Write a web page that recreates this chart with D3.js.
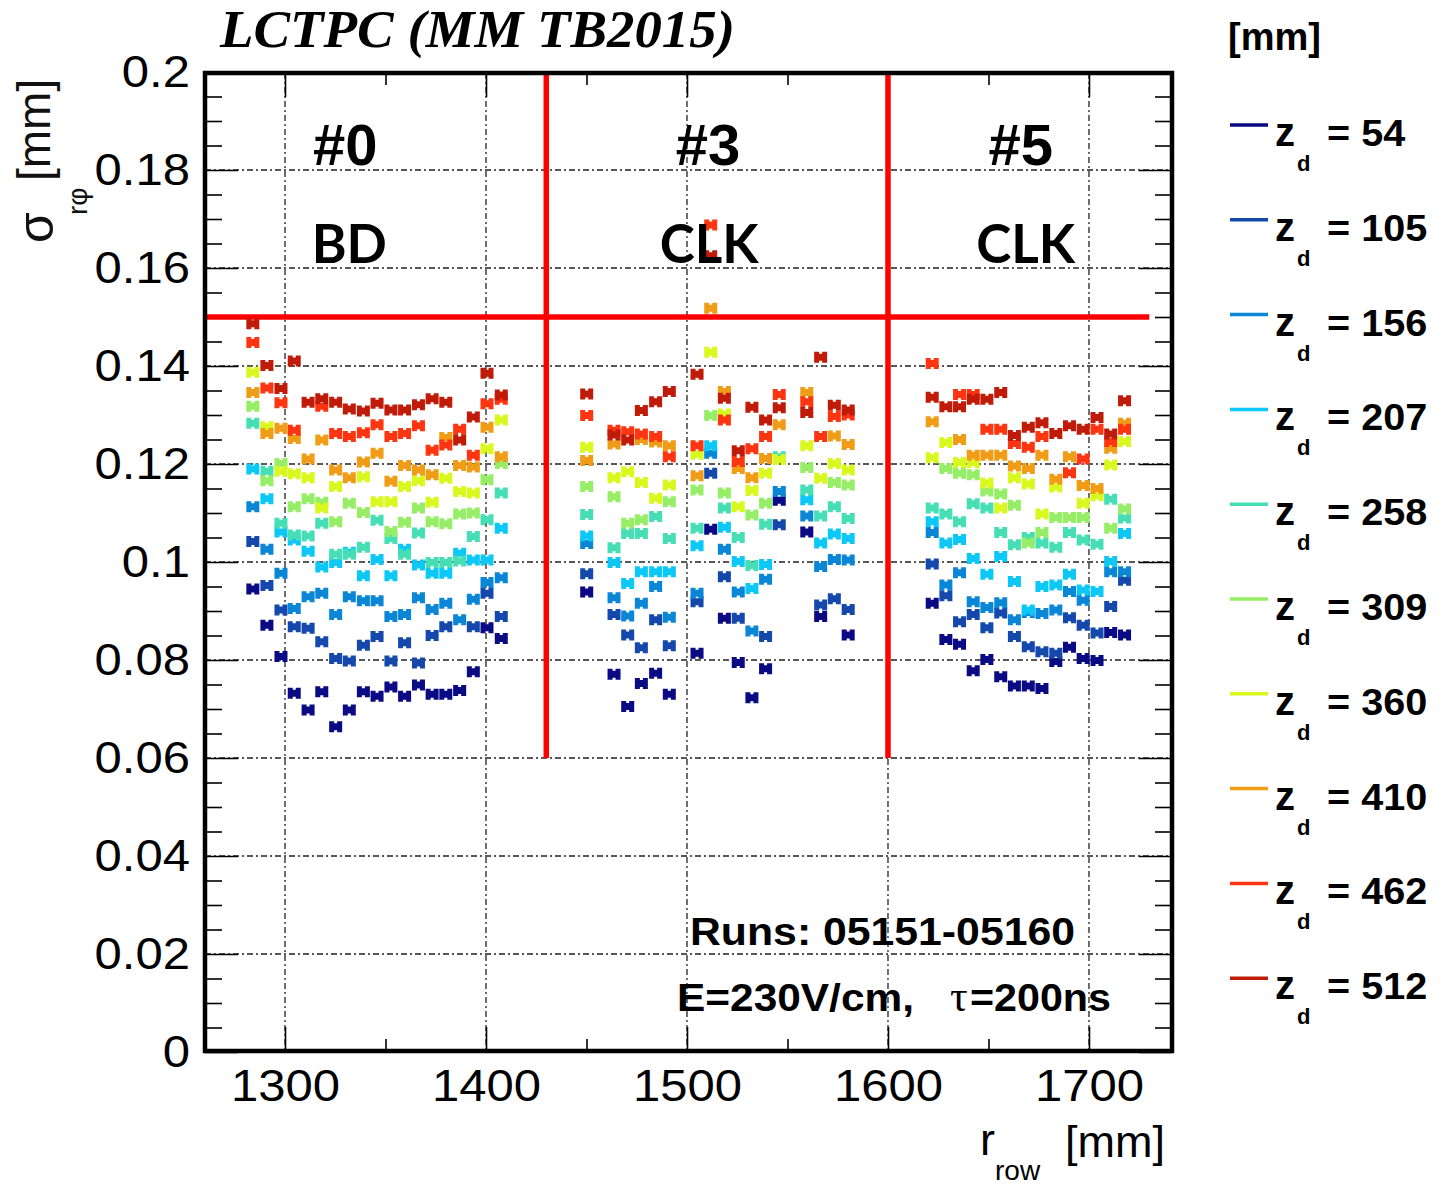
<!DOCTYPE html>
<html><head><meta charset="utf-8">
<script src="https://cdn.jsdelivr.net/npm/d3@7"></script>
<style>body{margin:0;background:#fff}</style>
</head><body>
<svg id="c" width="1441" height="1186"></svg>
<script>
// ---- data ----
// pad-row radii [mm]: module #0 (19 rows), module #3 (17 rows), module #5 (15 rows)
const rows = [
  1284,1291,1298,1304.6,1311.5,1318.3,1325.2,1332,1339,1345.8,1352.7,1359.5,1366.4,1373.2,1380,1386.9,1393.7,1400.5,1407.6,
  1450.1,1463.7,1470.5,1477.3,1484.4,1491.2,1505,1511.8,1518.6,1525.5,1532.3,1539.1,1545.9,1559.6,1566.5,1573.3,1580.2,
  1622,1628.8,1635.6,1642.4,1649.2,1656.1,1662.9,1669.8,1676.6,1683.5,1690.3,1697.1,1704,1710.8,1717.7
];
const z54 = [
  .0945,.0871,.0807,.0732,.0698,.0735,.0664,.0698,.0735,.0726,.0745,.0726,.0749,.0730,.0730,.0738,.0776,.0866,.0844,
  .0939,.0771,.0705,.0752,.0773,.0730,.0814,.1067,.0885,.0795,.0723,.0782,.1126,.1061,.0889,null,.0851,
  .0916,.0842,.0832,.0778,.0801,.0766,.0747,.0747,.0742,.0797,.0826,.0803,.0799,.0856,.0851
];
const z105 = [
  .1042,.0952,.0902,.0868,.0865,.0837,.0803,.0798,.0830,.0848,.0798,.0835,.0794,.0850,.0868,null,.0868,.0936,.0889,
  .0976,.0893,.0851,.0825,.0882,.0829,.0919,.1181,.0970,.0885,null,.0848,.1076,null,.0912,.0925,.0903,
  .0996,.0931,.0878,.0893,.0866,.0896,.0848,.0827,.0817,.0814,.0886,.0871,.0855,.0909,.0963
];
const z156 = [
  .1113,.1026,.0977,.0905,.0929,.0936,.0893,.0929,.0921,.0921,.0889,.0893,.0927,.0903,.0916,.0882,.0924,.0958,.0968,
  .1038,.0927,.0890,.0916,.0950,.0887,.0936,.1222,.1026,.0939,.0859,.0965,.1144,.1094,.0991,.1005,.1004,
  .1060,.0953,.0978,.0919,.0907,.0917,.0882,.0897,.0895,.0902,.0940,.0922,null,.0980,.0980
];
const z207 = [
  .1190,.1129,.1061,.1045,.1022,.0990,.0999,.1020,.0972,.1005,.0972,.1026,.0994,.0977,.0977,.1018,.1004,.1004,.1069,
  .1053,.0999,.0956,.0980,.0980,.0980,.1033,.1237,.1071,.1001,.0946,.0995,null,.1127,.1039,.1057,.1048,
  .1082,.1039,.1046,.1007,.0975,.1011,.0960,.0902,.0950,.0953,.0975,.0943,.0940,.1001,.1058
];
const z258 = [
  .1283,.1185,.1079,.1055,.1053,.1079,.1016,.1016,.1030,.1085,.1048,.1016,.1059,.0999,.0999,.1002,.1052,.1086,.1141,
  .1097,.1029,.1058,.1058,.1093,.1048,.1069,null,.1110,.1050,.0993,.1077,.1215,.1147,.1094,.1113,.1089,
  .1110,.1098,.1082,.1119,.1110,.1060,.1035,.1050,.1039,.1030,.1060,.1045,.1036,.1128,.1090
];
const z309 = [
  .1318,.1166,.1201,.1113,.1129,.1122,.1082,.1120,.1101,null,.1062,.1081,.1110,.1082,.1078,.1098,.1100,.1168,.1201,
  .1154,.1133,.1079,.1086,null,.1123,.1147,.1299,.1141,null,.1096,.1120,null,.1193,null,.1162,.1157,
  null,.1191,.1181,.1178,.1145,.1139,.1116,.1039,.1060,.1091,.1091,.1091,null,.1069,.1108
];
const z360 = [
  .1387,.1276,.1185,.1180,.1172,.1110,.1154,null,.1174,.1123,.1123,.1154,.1166,.1122,.1171,.1144,.1141,.1231,.1290,
  .1234,.1172,.1184,.1162,.1130,.1157,.1220,.1428,.1302,.1113,.1146,.1181,.1209,.1237,.1171,.1201,.1188,
  .1213,.1244,.1203,.1203,.1161,.1110,.1172,.1159,.1098,.1153,null,.1120,.1135,.1198,.1246
];
const z410 = [
  .1346,.1262,.1273,.1252,.1210,.1249,.1188,.1172,.1204,.1222,.1165,.1197,.1188,.1178,.1254,.1197,.1194,.1275,.1215,
  .1207,.1241,null,.1250,.1245,.1237,.1176,.1518,.1348,.1191,.1172,.1211,.1280,.1346,null,.1257,.1240,
  .1286,null,.1250,.1218,.1218,.1218,.1196,.1191,.1218,.1169,.1215,.1156,.1150,.1232,.1283
];
const z462 = [
  .1448,.1355,.1325,.1269,null,.1318,.1262,.1256,.1264,.1280,.1256,.1262,.1278,.1228,.1239,.1271,.1218,.1323,.1332,
  .1299,.1269,.1266,.1261,.1256,.1215,.1237,.1688,.1290,.1205,.1231,.1256,.1342,.1327,.1256,.1297,.1300,
  .1405,null,.1342,.1342,.1271,.1271,.1242,.1234,.1256,null,.1182,.1210,.1271,.1246,.1271
];
const z512 = [
  .1486,.1401,.1354,.1410,.1326,.1333,.1326,.1312,.1308,.1324,.1310,.1310,.1321,.1333,.1326,.1249,.1296,.1385,.1341,
  .1343,.1259,.1249,.1309,.1327,.1348,.1383,.1625,.1334,.1227,.1316,.1290,.1315,.1305,.1418,.1320,.1310,
  .1336,.1317,.1317,.1332,.1332,.1346,.1258,.1275,.1284,.1262,.1278,.1271,.1295,.1261,.1329
];
const seriesValues = [z54, z105, z156, z207, z258, z309, z360, z410, z462, z512];
const seriesLabels = ["54","105","156","207","258","309","360","410","462","512"];
const seriesColors = ["#0a0a84","#1448ac","#0a86d6","#0cc8f6","#46deb4","#96ee66","#d8f81e","#f09c16","#ff3410","#c01a08"];
const yMajor = [0,0.02,0.04,0.06,0.08,0.1,0.12,0.14,0.16,0.18,0.2];
const yTickLabels = ["0","0.02","0.04","0.06","0.08","0.1","0.12","0.14","0.16","0.18","0.2"];
const xMajor = [1300,1400,1500,1600,1700];
const xTickLabels = ["1300","1400","1500","1600","1700"];
const moduleBoundaries = [1430, 1600];
const moduleIds = ["#0","#3","#5"];
const moduleTypes = ["BD","CLK","CLK"];
const moduleCentres = [1330, 1510.5, 1666];
const moduleTypeCentres = [1332, 1511, 1668.5];
const cutValue = 0.15;

// ---- drawing ----
const svg = d3.select("#c");
const L = 205, R = 1172, T = 73, B = 1051;
const x = d3.scaleLinear().domain([1260.2, 1741.8]).range([205, 1173]);
const y = d3.scaleLinear().domain([0, 0.2]).range([1052, 72]);
const sans = "'Liberation Sans', Arial, Helvetica, sans-serif";

function stretch(sel, k) {
  sel.each(function () {
    const w = this.getComputedTextLength();
    d3.select(this).attr("textLength", w * k).attr("lengthAdjust", "spacingAndGlyphs");
  });
}

const yMinor = d3.range(0, 0.2001, 0.005).filter(v => yMajor.every(m => Math.abs(m - v) > 1e-6));
const xMinor = d3.range(1300, 1741, 50).concat([1250]).filter(v => v > 1260.2 && v < 1741.8 && !xMajor.includes(v));

// grid
const grid = svg.append("g").attr("stroke", "#222").attr("stroke-width", 1.3).attr("stroke-dasharray", "6,3,2,3");
grid.selectAll("line.gx").data(xMajor).join("line").attr("x1", d => x(d)).attr("x2", d => x(d)).attr("y1", T).attr("y2", B);
grid.selectAll("line.gy").data(yMajor.filter(v => v > 0 && v < 0.2)).join("line")
  .attr("x1", L).attr("x2", R).attr("y1", d => y(d)).attr("y2", d => y(d));

// ticks (inward, all four sides)
function tickAxis(gen, tr, vals, size) {
  const g = svg.append("g").attr("transform", tr).call(gen.tickValues(vals).tickSize(size).tickFormat(""));
  g.select(".domain").remove();
  g.selectAll("line").attr("stroke", "#000").attr("stroke-width", 1.6);
}
tickAxis(d3.axisTop(x), `translate(0,${B})`, xMajor, 24);
tickAxis(d3.axisTop(x), `translate(0,${B})`, xMinor, 12);
tickAxis(d3.axisBottom(x), `translate(0,${T})`, xMajor, 24);
tickAxis(d3.axisBottom(x), `translate(0,${T})`, xMinor, 12);
tickAxis(d3.axisRight(y), `translate(${L},0)`, yMajor, 33);
tickAxis(d3.axisRight(y), `translate(${L},0)`, yMinor, 17);
tickAxis(d3.axisLeft(y), `translate(${R},0)`, yMajor, 33);
tickAxis(d3.axisLeft(y), `translate(${R},0)`, yMinor, 17);

// tick labels
const xl = svg.append("g").attr("transform", `translate(0,${B})`)
  .call(d3.axisBottom(x).tickValues(xMajor).tickSize(0).tickPadding(18).tickFormat((d, i) => xTickLabels[i]));
xl.select(".domain").remove();
xl.selectAll("text").attr("font-family", sans).attr("font-size", 45).attr("fill", "#000");
stretch(xl.selectAll("text"), 1.09);
const yl = svg.append("g").attr("transform", `translate(${L},0)`)
  .call(d3.axisLeft(y).tickValues(yMajor).tickSize(0).tickPadding(15).tickFormat((d, i) => yTickLabels[i]));
yl.select(".domain").remove();
yl.selectAll("text").attr("font-family", sans).attr("font-size", 45).attr("fill", "#000");
stretch(yl.selectAll("text"), 1.09);

// red module boundaries and cut
const red = svg.append("g").attr("stroke", "#ff0000").attr("stroke-width", 5.5);
red.append("line").attr("x1", L).attr("x2", x(1730)).attr("y1", y(cutValue)).attr("y2", y(cutValue));
red.selectAll("line.v").data(moduleBoundaries).join("line")
  .attr("x1", d => x(d)).attr("x2", d => x(d)).attr("y1", y(0.2)).attr("y2", y(0.06));

// markers
const marker = "M-6.5,-5.5H-1.5V-3.5H1.5V-5.5H6.5V5.5H1.5V3.5H-1.5V5.5H-6.5Z";
seriesValues.forEach((vals, si) => {
  const pts = vals.map((v, i) => ({ r: rows[i], v })).filter(d => d.v != null);
  svg.append("g").selectAll("path").data(pts).join("path")
    .attr("d", marker)
    .attr("transform", d => `translate(${x(d.r)},${y(d.v)})`)
    .attr("fill", seriesColors[si]);
});

// frame
svg.append("rect").attr("x", L).attr("y", T).attr("width", R - L).attr("height", B - T)
  .attr("fill", "none").attr("stroke", "#000").attr("stroke-width", 4.5);

// module labels
svg.selectAll("text.mid").data(moduleIds).join("text")
  .attr("x", (d, i) => x(moduleCentres[i])).attr("y", 165).attr("text-anchor", "middle")
  .attr("font-family", sans).attr("font-weight", "bold").attr("font-size", 58).text(d => d);
svg.selectAll("text.mtype").data(moduleTypes).join("text")
  .attr("x", (d, i) => x(moduleTypeCentres[i])).attr("y", 263).attr("text-anchor", "middle")
  .attr("font-family", "Lato, 'Open Sans', sans-serif").attr("font-weight", "bold").attr("font-size", 53).text(d => d);

// title
svg.append("text").attr("x", 220).attr("y", 47).attr("font-family", "'Liberation Serif', 'Times New Roman', serif")
  .attr("font-style", "italic").attr("font-weight", "bold").attr("font-size", 52)
  .attr("textLength", 515).attr("lengthAdjust", "spacingAndGlyphs").text("LCTPC (MM TB2015)");

// info text
svg.append("text").attr("x", 690).attr("y", 945).attr("font-family", sans).attr("font-weight", "bold")
  .attr("font-size", 38).attr("textLength", 385).attr("lengthAdjust", "spacingAndGlyphs").text("Runs: 05151-05160");
svg.append("text").attr("x", 677).attr("y", 1011).attr("font-family", sans).attr("font-weight", "bold")
  .attr("font-size", 38).attr("textLength", 237).attr("lengthAdjust", "spacingAndGlyphs").text("E=230V/cm,");
svg.append("text").attr("x", 950).attr("y", 1011).attr("font-family", "'Liberation Serif', serif")
  .attr("font-size", 44).text("τ");
svg.append("text").attr("x", 970).attr("y", 1011).attr("font-family", sans).attr("font-weight", "bold")
  .attr("font-size", 38).attr("textLength", 141).attr("lengthAdjust", "spacingAndGlyphs").text("=200ns");

// axis titles
const xt = svg.append("g").attr("font-family", sans).attr("fill", "#000");
xt.append("text").attr("x", 980).attr("y", 1155).attr("font-size", 45).text("r");
xt.append("text").attr("x", 995).attr("y", 1180).attr("font-size", 28).text("row");
xt.append("text").attr("x", 1065).attr("y", 1157).attr("font-size", 45).text("[mm]");

const yt = svg.append("g").attr("transform", "translate(50,243) rotate(-90)").attr("font-family", sans).attr("fill", "#111");
yt.append("text").attr("x", 0).attr("y", 3).attr("font-size", 50).text("σ");
yt.append("text").attr("x", 28).attr("y", 37).attr("font-size", 28).text("rφ");
yt.append("text").attr("x", 62).attr("y", 0).attr("font-size", 46).text("[mm]");

// legend
svg.append("text").attr("x", 1228).attr("y", 50).attr("font-family", sans).attr("font-weight", "bold")
  .attr("font-size", 38).text("[mm]");
const lg = svg.append("g").selectAll("g").data(seriesLabels).join("g")
  .attr("transform", (d, i) => `translate(0,${125 + i * 94.8})`);
lg.append("line").attr("x1", 1230).attr("x2", 1268).attr("y1", 0).attr("y2", 0)
  .attr("stroke", (d, i) => seriesColors[i]).attr("stroke-width", 3.5);
lg.append("text").attr("x", 1275).attr("y", 21).attr("font-family", sans).attr("font-weight", "bold")
  .attr("font-size", 40).text("z");
lg.append("text").attr("x", 1297).attr("y", 46).attr("font-family", sans).attr("font-weight", "bold")
  .attr("font-size", 22).text("d");
const lv = lg.append("text").attr("x", 1327).attr("y", 21).attr("font-family", sans).attr("font-weight", "bold")
  .attr("font-size", 36).text(d => "= " + d);
stretch(lv, 1.1);
</script>
</body></html>
